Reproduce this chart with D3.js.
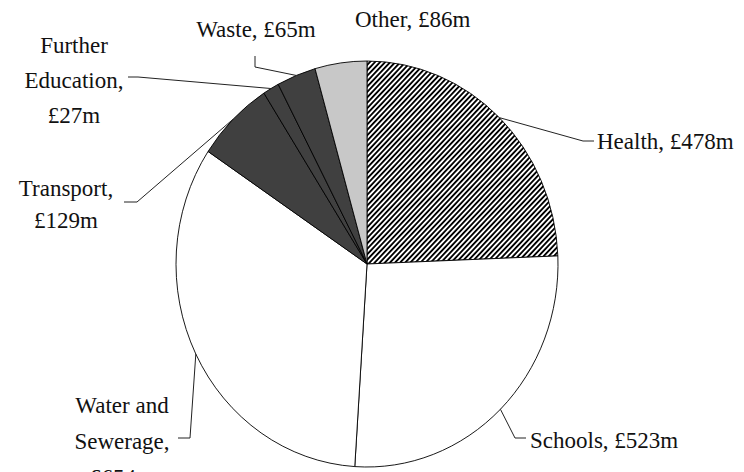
<!DOCTYPE html>
<html>
<head>
<meta charset="utf-8">
<script src="https://cdn.jsdelivr.net/npm/d3@7"></script>
<style>
  html, body { margin: 0; padding: 0; background: #fff; }
  svg { display: block; }
  text { font-family: "Liberation Serif", "Times New Roman", serif; font-size: 23px; fill: #111; }
</style>
</head>
<body>
<svg id="chart" width="744" height="472"></svg>
<script>
// Spending by sector (£m), drawn clockwise from 12 o'clock
const categories = ["Health", "Schools", "Water and Sewerage", "Transport", "Further Education", "Waste", "Other"];
const values = [478, 523, 654, 129, 27, 65, 86];
const labelLines = [
  ["Health, £478m"],
  ["Schools, £523m"],
  ["Water and", "Sewerage,", "£654m"],
  ["Transport,", "£129m"],
  ["Further", "Education,", "£27m"],
  ["Waste, £65m"],
  ["Other, £86m"]
];

// Fills per slice ("hatch" = diagonal stripe pattern)
const fills = ["url(#hatch)", "#ffffff", "#ffffff", "#404040", "#404040", "#404040", "#c8c8c8"];

// Label placement: text anchor point, line spacing, leader elbow and end
const labelLayout = [
  { x: 597, y: 149, anchor: "start",  lh: 35, elbow: [583, 141], end: [594, 141] },
  { x: 530, y: 448, anchor: "start",  lh: 35, elbow: [515, 438], end: [526, 438] },
  { x: 122, y: 413, anchor: "middle", lh: 36, elbow: [190, 438], end: [178, 438] },
  { x: 66,  y: 196, anchor: "middle", lh: 32, elbow: [137, 202], end: [124, 202] },
  { x: 74,  y: 53,  anchor: "middle", lh: 35, elbow: [138, 77],  end: [128, 77] },
  { x: 256, y: 37,  anchor: "middle", lh: 35, elbow: [255, 67],  end: [255, 56] },
  { x: 355, y: 27,  anchor: "start",  lh: 35, elbow: null,       end: null }
];

const cx = 367, cy = 264, rx = 191, ry = 203;

const svg = d3.select("#chart");

// Diagonal stripe pattern for the Health slice
const defs = svg.append("defs");
const pat = defs.append("pattern")
  .attr("id", "hatch")
  .attr("patternUnits", "userSpaceOnUse")
  .attr("width", 3.6).attr("height", 3.6)
  .attr("patternTransform", "rotate(45)");
pat.append("rect").attr("width", 3.6).attr("height", 3.6).attr("fill", "#fff");
pat.append("rect").attr("width", 1.8).attr("height", 3.6).attr("fill", "#000");

const data = categories.map((c, i) => ({ name: c, value: values[i], i }));

const pie = d3.pie().sort(null).value(d => d.value).startAngle(0).endAngle(2 * Math.PI);
const arcs = pie(data);
const arc = d3.arc().innerRadius(0).outerRadius(rx);

const g = svg.append("g")
  .attr("transform", `translate(${cx},${cy}) scale(1,${ry / rx})`);

g.selectAll("path.slice")
  .data(arcs)
  .enter().append("path")
  .attr("class", "slice")
  .attr("d", arc)
  .attr("fill", d => fills[d.data.i])
  .attr("stroke", "#000")
  .attr("stroke-width", 0.9)
  .attr("vector-effect", "non-scaling-stroke");

// Point on the pie rim at a slice's middle angle
function rimPoint(d) {
  const a = (d.startAngle + d.endAngle) / 2;
  return [cx + rx * Math.sin(a), cy - ry * Math.cos(a)];
}

// Leader lines
const line = d3.line();
arcs.forEach(d => {
  const L = labelLayout[d.data.i];
  if (!L.elbow) return;
  svg.append("path")
    .attr("d", line([rimPoint(d), L.elbow, L.end]))
    .attr("fill", "none")
    .attr("stroke", "#222")
    .attr("stroke-width", 1);
});

// Labels
arcs.forEach(d => {
  const L = labelLayout[d.data.i];
  const t = svg.append("text")
    .attr("text-anchor", L.anchor);
  labelLines[d.data.i].forEach((s, k) => {
    t.append("tspan")
      .attr("x", L.x)
      .attr("y", L.y + k * L.lh)
      .text(s);
  });
});
</script>
</body>
</html>
